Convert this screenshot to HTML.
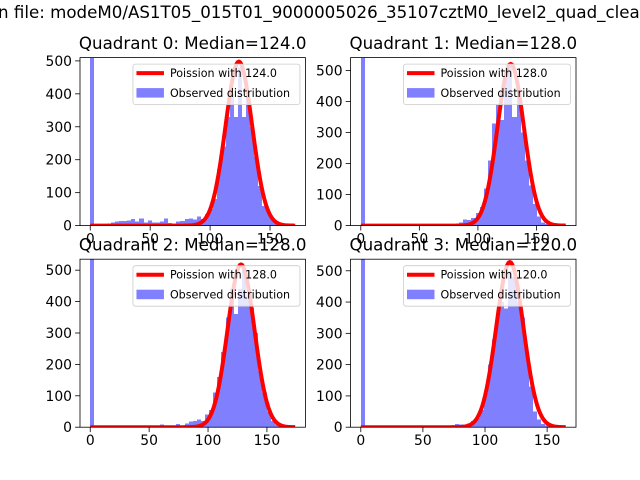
<!DOCTYPE html>
<html><head><meta charset="utf-8"><style>
html,body{margin:0;padding:0;background:#fff;}
svg{display:block;font-family:"DejaVu Sans","Liberation Sans",sans-serif;}
</style></head><body>
<svg id="fig" width="640" height="480" viewBox="0 0 640 480" xmlns="http://www.w3.org/2000/svg">
<rect width="640" height="480" fill="#fff"/>
<text x="-2" y="18" font-size="16.67" fill="#000">n file: modeM0/AS1T05_015T01_9000005026_35107cztM0_level2_quad_clean.evt</text>
</svg>
<script>
// Data
const quadrantNames = ["Quadrant 0: Median=124.0","Quadrant 1: Median=128.0","Quadrant 2: Median=128.0","Quadrant 3: Median=120.0"];
const medians = [124.0, 128.0, 128.0, 120.0];
const dataMax = [171, 175, 174, 165];
const yMax = [510, 542, 535, 537];
const curveAmp = [13900, 14800, 14700, 14500];
const counts0 = [2000,0,2,4,6,10,12,14,14,16,20,12,22,10,16,10,10,12,22,8,6,12,14,20,22,18,28,20,35,50,80,170,240,330,400,330,480,330,400,300,210,120,60,40,20,12,5,0,0,0];
const counts1 = [2000,0,0,0,0,0,0,0,0,0,0,0,0,0,0,0,0,0,0,0,0,0,5,5,10,20,18,25,40,60,120,210,330,390,340,480,520,350,420,300,210,130,70,30,10,5,2,0,0,0];
const counts2 = [2000,0,0,0,0,0,0,0,0,0,0,0,0,0,0,0,0,8,0,0,0,10,0,12,18,20,25,20,40,55,110,160,240,350,440,360,440,500,420,380,300,180,110,50,20,8,3,0,0,0];
const counts3 = [2000,0,0,0,0,0,0,0,0,0,0,0,0,0,0,0,0,0,0,0,0,0,0,10,8,8,12,20,30,55,110,200,280,360,400,380,500,480,400,350,240,130,50,25,10,5,2,0,0,0];
const allCounts = [counts0, counts1, counts2, counts3];
const xTicks = [0, 50, 100, 150];
const yTicks = [0, 100, 200, 300, 400, 500];

const NS = "http://www.w3.org/2000/svg";
const svg = document.getElementById('fig');
function mk(tag, attrs, parent){const e=document.createElementNS(NS,tag);for(const k in attrs)e.setAttribute(k,attrs[k]);(parent||svg).appendChild(e);return e;}

const axW = 225.45, axH = 168;
const lefts = [80, 350.55, 80, 350.55];
const tops = [57.6, 57.6, 259.2, 259.2];

for (let q=0;q<4;q++){
  const L=lefts[q], T=tops[q], B=T+axH, R=L+axW;
  const dmax=dataMax[q], m=dmax*0.05;
  const xmin=-m, xmax=dmax+m;
  const sx=v=>L+(v-xmin)/(xmax-xmin)*axW;
  const sy=v=>B-v/yMax[q]*axH;
  const g=mk('g',{});
  
  
  const cid='clip'+q;
  const cp=mk('clipPath',{id:cid},g); mk('rect',{x:L,y:T,width:axW,height:axH},cp);
  const bars=mk('g',{'clip-path':'url(#'+cid+')','shape-rendering':'crispEdges'},g);
  const cnt=allCounts[q], nb=cnt.length, bw=dmax/nb;
  cnt.forEach((c,i)=>{
    if(c<=0) return;
    const x0=Math.round(sx(i*bw)), x1=Math.round(sx((i+1)*bw)), y=sy(c);
    const r=mk('rect',{x:x0,y:y,width:x1-x0,height:B-y,fill:'#8080ff'},bars);
    
    
  });
  const lam=medians[q]; let d='';
  for(let k=0;k<=dmax;k++){
    const v=curveAmp[q]/Math.sqrt(2*Math.PI*lam)*Math.exp(-(k-lam)*(k-lam)/(2*lam));
    d+=(k?'L':'M')+sx(k).toFixed(2)+','+sy(v).toFixed(2);
  }
  const cg=mk('g',{'clip-path':'url(#'+cid+')'},g);
  const pl=mk('path',{d:d,fill:'none',stroke:'#ff0000','stroke-width':4,'stroke-linejoin':'round'},cg);
  
  
  const fr=mk('rect',{x:L,y:T,width:axW,height:axH,fill:'none',stroke:'#000','stroke-width':0.8},g);
  
  
  xTicks.forEach(t=>{
    const x=sx(t);
    mk('line',{x1:x,x2:x,y1:B,y2:B+4.9,stroke:'#000','stroke-width':0.8},g);
    const tx=mk('text',{x:x,y:B+18,'font-size':13.9,'text-anchor':'middle',fill:'#000'},g);
    tx.textContent=t;
    
    
  });
  yTicks.forEach(t=>{
    const y=sy(t);
    mk('line',{x1:L,x2:L-4.9,y1:y,y2:y,stroke:'#000','stroke-width':0.8},g);
    const tx=mk('text',{x:L-8,y:y+5,'font-size':13.9,'text-anchor':'end',fill:'#000'},g);
    tx.textContent=t;
    
    
  });
  const ti=mk('text',{x:L+axW/2,y:T-8.5,'font-size':16.67,'text-anchor':'middle',fill:'#000'},g);
  ti.textContent=quadrantNames[q];
  
  
  const lg=mk('g',{},g);
  
  
  const lx=R-172.5, ly=T+6.5;
  mk('rect',{x:lx,y:ly,width:167,height:40.5,rx:2.5,fill:'#fff','fill-opacity':0.8,stroke:'#cccccc','stroke-width':0.8},lg);
  mk('line',{x1:lx+3.5,x2:lx+31,y1:ly+9,y2:ly+9,stroke:'#ff0000','stroke-width':4},lg);
  const t1=mk('text',{x:lx+37,y:ly+13,'font-size':11.1,fill:'#000'},lg);
  t1.textContent='Poission with '+medians[q].toFixed(1);
  
  
  mk('rect',{x:lx+3.5,y:ly+24,width:27.5,height:9.5,fill:'#8080ff'},lg);
  const t2=mk('text',{x:lx+37,y:ly+33,'font-size':11.1,fill:'#000'},lg);
  t2.textContent='Observed distribution';
  
  
}
</script>
</body></html>
